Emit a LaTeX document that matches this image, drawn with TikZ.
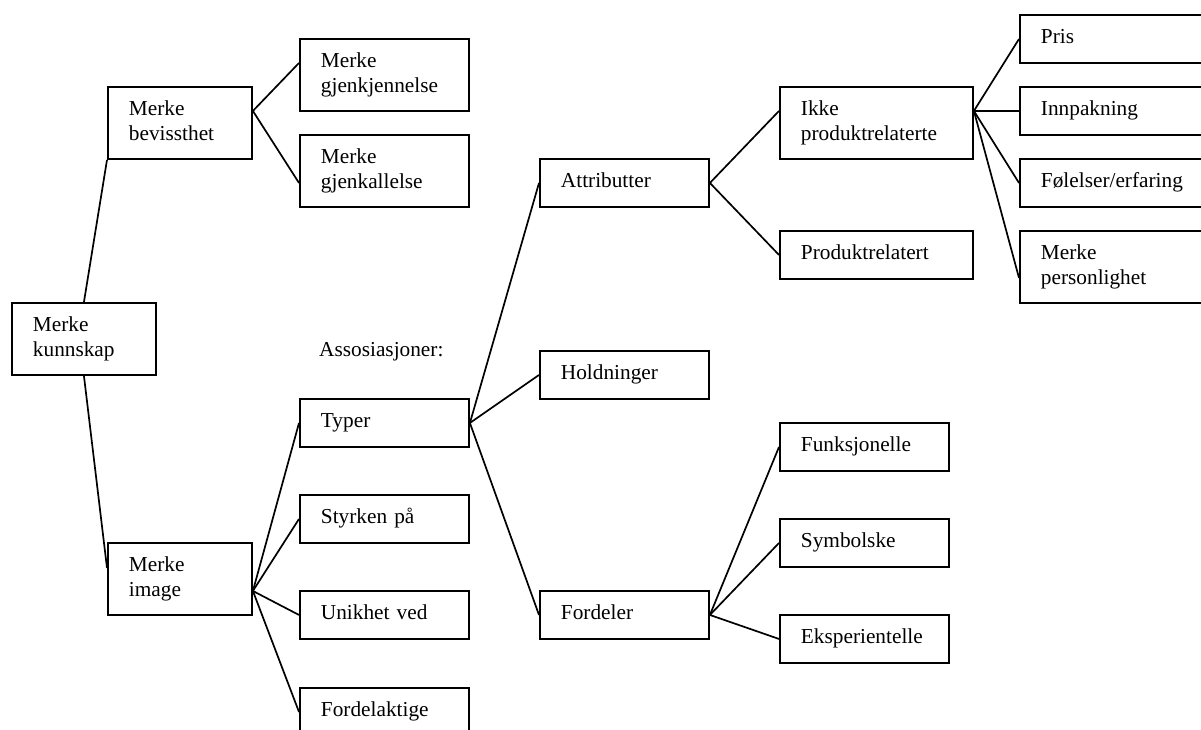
\documentclass[tikz,border=0pt]{standalone}
\usepackage{fontspec}
\setmainfont{Liberation Serif}
\begin{document}
\begin{tikzpicture}[x=1pt,y=-1pt,
  box/.style={draw, line width=1.9pt, rectangle, anchor=north west,
    inner xsep=21pt, inner ysep=0pt, align=left,
    font=\fontsize{21.3}{25}\selectfont},
  narrowbox/.style={box, minimum width=144pt, text width=102pt},
  midbox/.style={box, minimum width=169pt, text width=127pt},
  widebox/.style={box, minimum width=193pt, text width=151pt},
  edgebox/.style={box, minimum width=211pt, text width=169pt},
  oneline/.style={minimum height=48pt},
  twoline/.style={minimum height=72pt},
  link/.style={line width=1.7pt},
  caption/.style={anchor=base west, inner sep=0pt, font=\fontsize{21.3}{25}\selectfont}]

\useasboundingbox (0,0) rectangle (1201,729);
\clip (0,0) rectangle (1201,729);

% level 0
\node[narrowbox, twoline] (kunn) at (11,302) {\strut Merke\\kunnskap\strut};

% level 1
\node[narrowbox, twoline] (bev) at (107,86) {\strut Merke\\bevissthet\strut};
\node[narrowbox, twoline] (img) at (107,542) {\strut Merke\\image\strut};

% level 2
\node[midbox, twoline] (gjkj) at (299,38) {\strut Merke\\gjenkjennelse\strut};
\node[midbox, twoline] (gjka) at (299,134) {\strut Merke\\gjenkallelse\strut};
\node[caption] (asso) at (319,356) {Assosiasjoner:};
\node[midbox, oneline] (typer) at (299,398) {\strut Typer\strut};
\node[midbox, oneline] (styrk) at (299,494) {\strut Styrken på\strut};
\node[midbox, oneline] (unik) at (299,590) {\strut Unikhet ved\strut};
\node[midbox, oneline] (fdlk) at (299,687) {\strut Fordelaktige\strut};

% level 3
\node[midbox, oneline] (attr) at (539,158) {\strut Attributter\strut};
\node[midbox, oneline] (hold) at (539,350) {\strut Holdninger\strut};
\node[midbox, oneline] (ford) at (539,590) {\strut Fordeler\strut};

% level 4
\node[widebox, twoline] (ikke) at (779,86) {\strut Ikke\\produktrelaterte\strut};
\node[widebox, oneline] (prod) at (779,230) {\strut Produktrelatert\strut};
\node[midbox, oneline] (funk) at (779,422) {\strut Funksjonelle\strut};
\node[midbox, oneline] (symb) at (779,518) {\strut Symbolske\strut};
\node[midbox, oneline] (eksp) at (779,614) {\strut Eksperientelle\strut};

% level 5
\node[edgebox, oneline] (pris) at (1019,14) {\strut Pris\strut};
\node[edgebox, oneline] (inn) at (1019,86) {\strut Innpakning\strut};
\node[edgebox, oneline] (fol) at (1019,158) {\strut Følelser/erfaring\strut};
\node[edgebox, twoline] (pers) at (1019,230) {\strut Merke\\personlighet\strut};

% connectors
\draw[link] (kunn.north) -- (bev.south west);
\draw[link] (kunn.south) -- ([yshift=11pt]img.west);

\draw[link] ([yshift=12pt]bev.east) -- ([yshift=12pt]gjkj.west);
\draw[link] ([yshift=12pt]bev.east) -- ([yshift=-12pt]gjka.west);

\draw[link] ([yshift=-12pt]img.east) -- (typer.west);
\draw[link] ([yshift=-12pt]img.east) -- (styrk.west);
\draw[link] ([yshift=-12pt]img.east) -- (unik.west);
\draw[link] ([yshift=-12pt]img.east) -- (fdlk.west);

\draw[link] (typer.east) -- (attr.west);
\draw[link] (typer.east) -- (hold.west);
\draw[link] (typer.east) -- (ford.west);

\draw[link] (attr.east) -- ([yshift=12pt]ikke.west);
\draw[link] (attr.east) -- (prod.west);

\draw[link] ([yshift=12pt]ikke.east) -- (pris.west);
\draw[link] ([yshift=12pt]ikke.east) -- (inn.west);
\draw[link] ([yshift=12pt]ikke.east) -- (fol.west);
\draw[link] ([yshift=12pt]ikke.east) -- ([yshift=-11pt]pers.west);

\draw[link] (ford.east) -- (funk.west);
\draw[link] (ford.east) -- (symb.west);
\draw[link] (ford.east) -- (eksp.west);
\end{tikzpicture}
\end{document}
